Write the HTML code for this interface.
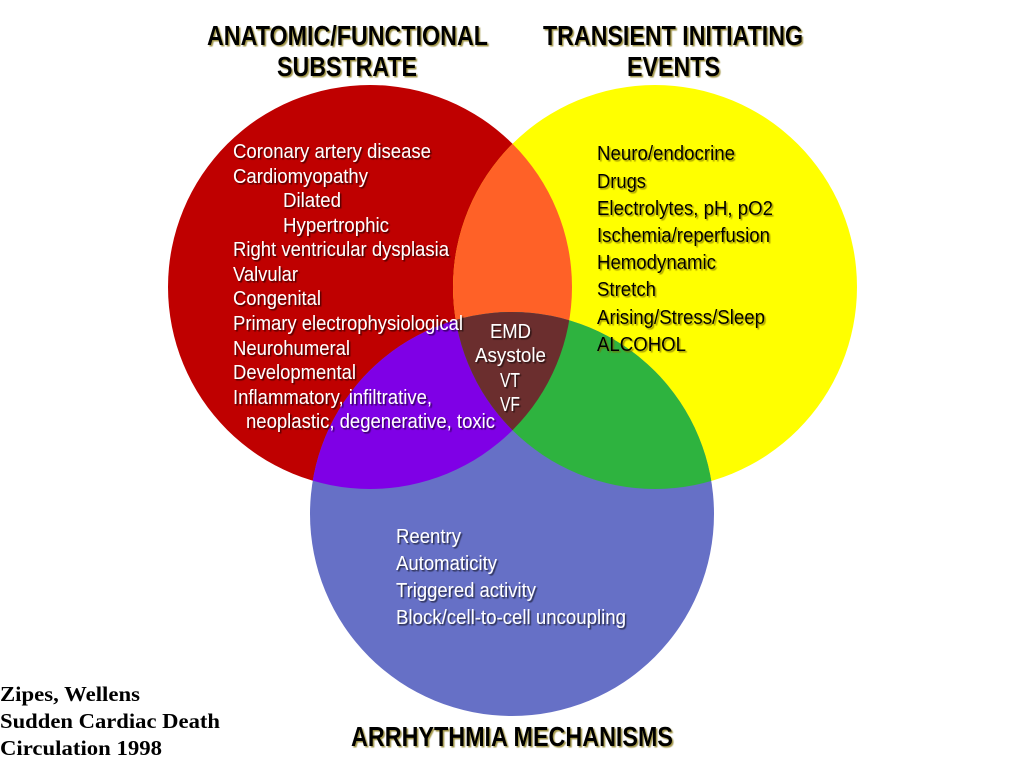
<!DOCTYPE html>
<html><head><meta charset="utf-8"><style>
html,body{margin:0;padding:0;background:#fff;width:1024px;height:768px;overflow:hidden}
svg{display:block}
.t{font-family:"Liberation Sans Narrow","Liberation Sans",sans-serif}
.w{fill:#fff;font-size:20px}
.b{fill:#000;font-size:20px}
.h{fill:#000;font-size:28px;font-weight:bold}
.s{font-family:"Liberation Serif",serif;font-weight:bold;font-size:21px;fill:#000}
</style></head><body>
<svg width="1024" height="768" viewBox="0 0 1024 768" xmlns="http://www.w3.org/2000/svg">
<defs>
<clipPath id="cr"><circle cx="370" cy="287" r="202"/></clipPath>
<clipPath id="cy"><circle cx="655" cy="287" r="202"/></clipPath>
<clipPath id="cb"><circle cx="512" cy="514" r="202"/></clipPath>
<filter id="sh" x="-5%" y="-20%" width="110%" height="140%"><feDropShadow dx="1.5" dy="1.5" stdDeviation="0.6" flood-color="#000" flood-opacity="0.6"/></filter>
<filter id="shl" x="-5%" y="-20%" width="110%" height="140%"><feDropShadow dx="1.5" dy="1.5" stdDeviation="0.6" flood-color="#7a6a00" flood-opacity="0.7"/></filter>
</defs>
<circle cx="370" cy="287" r="202" fill="#BF0000"/>
<circle cx="655" cy="287" r="202" fill="#FFFF00"/>
<circle cx="512" cy="514" r="202" fill="#6670C6"/>
<g clip-path="url(#cr)"><circle cx="655" cy="287" r="202" fill="#FF6127"/><circle cx="512" cy="514" r="202" fill="#7F00E6"/></g>
<g clip-path="url(#cy)"><circle cx="512" cy="514" r="202" fill="#2EB33F"/></g>
<g clip-path="url(#cr)"><g clip-path="url(#cy)"><circle cx="512" cy="514" r="202" fill="#6B2E2E"/></g></g>

<g class="t h" filter="url(#shl)">
<text x="207" y="45" textLength="281" lengthAdjust="spacingAndGlyphs">ANATOMIC/FUNCTIONAL</text>
<text x="277" y="76" textLength="140" lengthAdjust="spacingAndGlyphs">SUBSTRATE</text>
<text x="543" y="45" textLength="260" lengthAdjust="spacingAndGlyphs">TRANSIENT INITIATING</text>
<text x="627" y="76" textLength="93" lengthAdjust="spacingAndGlyphs">EVENTS</text>
<text x="351" y="746" textLength="322" lengthAdjust="spacingAndGlyphs">ARRHYTHMIA MECHANISMS</text>
</g>

<g class="t w" filter="url(#sh)">
<text x="233" y="158" textLength="198" lengthAdjust="spacingAndGlyphs">Coronary artery disease</text>
<text x="233" y="183" textLength="135" lengthAdjust="spacingAndGlyphs">Cardiomyopathy</text>
<text x="283" y="207" textLength="58" lengthAdjust="spacingAndGlyphs">Dilated</text>
<text x="283" y="232" textLength="106" lengthAdjust="spacingAndGlyphs">Hypertrophic</text>
<text x="233" y="256" textLength="216" lengthAdjust="spacingAndGlyphs">Right ventricular dysplasia</text>
<text x="233" y="281" textLength="65" lengthAdjust="spacingAndGlyphs">Valvular</text>
<text x="233" y="305" textLength="88" lengthAdjust="spacingAndGlyphs">Congenital</text>
<text x="233" y="330" textLength="230" lengthAdjust="spacingAndGlyphs">Primary electrophysiological</text>
<text x="233" y="355" textLength="117" lengthAdjust="spacingAndGlyphs">Neurohumeral</text>
<text x="233" y="379" textLength="123" lengthAdjust="spacingAndGlyphs">Developmental</text>
<text x="233" y="404" textLength="199" lengthAdjust="spacingAndGlyphs">Inflammatory, infiltrative,</text>
<text x="246" y="428" textLength="249" lengthAdjust="spacingAndGlyphs">neoplastic, degenerative, toxic</text>
<text x="490" y="338" textLength="41" lengthAdjust="spacingAndGlyphs">EMD</text>
<text x="475" y="362" textLength="71" lengthAdjust="spacingAndGlyphs">Asystole</text>
<text x="500" y="387" textLength="20" lengthAdjust="spacingAndGlyphs">VT</text>
<text x="500" y="411" textLength="20" lengthAdjust="spacingAndGlyphs">VF</text>
<text x="396" y="543" textLength="65" lengthAdjust="spacingAndGlyphs">Reentry</text>
<text x="396" y="570" textLength="101" lengthAdjust="spacingAndGlyphs">Automaticity</text>
<text x="396" y="597" textLength="140" lengthAdjust="spacingAndGlyphs">Triggered activity</text>
<text x="396" y="624" textLength="230" lengthAdjust="spacingAndGlyphs">Block/cell-to-cell uncoupling</text>
</g>

<g class="t b" filter="url(#shl)">
<text x="597" y="160" textLength="138" lengthAdjust="spacingAndGlyphs">Neuro/endocrine</text>
<text x="597" y="188" textLength="49" lengthAdjust="spacingAndGlyphs">Drugs</text>
<text x="597" y="215" textLength="176" lengthAdjust="spacingAndGlyphs">Electrolytes, pH, pO2</text>
<text x="597" y="242" textLength="173" lengthAdjust="spacingAndGlyphs">Ischemia/reperfusion</text>
<text x="597" y="269" textLength="119" lengthAdjust="spacingAndGlyphs">Hemodynamic</text>
<text x="597" y="296" textLength="59" lengthAdjust="spacingAndGlyphs">Stretch</text>
<text x="597" y="324" textLength="168" lengthAdjust="spacingAndGlyphs">Arising/Stress/Sleep</text>
<text x="597" y="351" textLength="89" lengthAdjust="spacingAndGlyphs">ALCOHOL</text>
</g>

<g class="s">
<text x="0" y="701" textLength="140" lengthAdjust="spacingAndGlyphs">Zipes, Wellens</text>
<text x="0" y="728" textLength="220" lengthAdjust="spacingAndGlyphs">Sudden Cardiac Death</text>
<text x="0" y="755" textLength="162" lengthAdjust="spacingAndGlyphs">Circulation 1998</text>
</g>
</svg>
</body></html>
